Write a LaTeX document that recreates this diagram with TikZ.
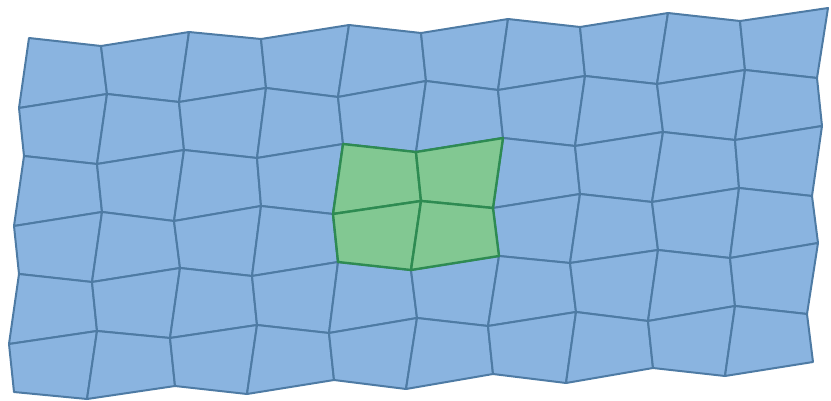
\documentclass[tikz,border=0pt]{standalone}
\definecolor{bluefill}{RGB}{138,180,224}
\definecolor{bluestroke}{RGB}{78,123,164}
\definecolor{greenfill}{RGB}{130,200,146}
\definecolor{greenstroke}{RGB}{46,139,82}
\tikzset{
  cellblue/.style={fill=bluefill,draw=bluestroke,line width=2pt,line join=round},
  cellgreen/.style={fill=greenfill,draw=greenstroke,line width=2.4pt,line join=round}
}
\begin{document}
\begin{tikzpicture}[x=1pt,y=-1pt]
\useasboundingbox (0,0) rectangle (831,400);
\foreach \x/\y [count=\i from 0] in {29/38,101/46,189/32,261/39,349/25,421/33,508/19,580/27,668/13,740/21,828/8} \coordinate (p-\i-0) at (\x,\y);
\foreach \x/\y [count=\i from 0] in {19/108,107/94,179/102,266/88,338/97,426/81,498/90,585/76,657/84,745/70,817/78} \coordinate (p-\i-1) at (\x,\y);
\foreach \x/\y [count=\i from 0] in {24/156,97/164,184/150,257/158,343/144,416/152,503/138,575/146,663/132,735/140,822/126} \coordinate (p-\i-2) at (\x,\y);
\foreach \x/\y [count=\i from 0] in {14/226,102/212,174/221,261/206,333/214,421/201,493/208,580/194,652/202,739/188,812/196} \coordinate (p-\i-3) at (\x,\y);
\foreach \x/\y [count=\i from 0] in {19/274,92/282,180/268,252/276,338/262,411/270,499/256,570/263,658/250,730/258,818/243} \coordinate (p-\i-4) at (\x,\y);
\foreach \x/\y [count=\i from 0] in {9/344,97/331,170/338,257/325,329/333,417/318,488/326,576/312,648/321,735/306,807/314} \coordinate (p-\i-5) at (\x,\y);
\foreach \x/\y [count=\i from 0] in {14/392,87/399,175/386,247/394,334/380,406/389,493/374,566/383,653/368,725/376,813/362} \coordinate (p-\i-6) at (\x,\y);
\foreach \i in {0,...,9}{
  \foreach \j in {0,...,5}{
    \pgfmathtruncatemacro{\ii}{\i+1}
    \pgfmathtruncatemacro{\jj}{\j+1}
    \filldraw[cellblue] (p-\i-\j) -- (p-\ii-\j) -- (p-\ii-\jj) -- (p-\i-\jj) -- cycle;
  }
}
\foreach \i in {4,5}{
  \foreach \j in {2,3}{
    \pgfmathtruncatemacro{\ii}{\i+1}
    \pgfmathtruncatemacro{\jj}{\j+1}
    \filldraw[cellgreen] (p-\i-\j) -- (p-\ii-\j) -- (p-\ii-\jj) -- (p-\i-\jj) -- cycle;
  }
}
\end{tikzpicture}
\end{document}
